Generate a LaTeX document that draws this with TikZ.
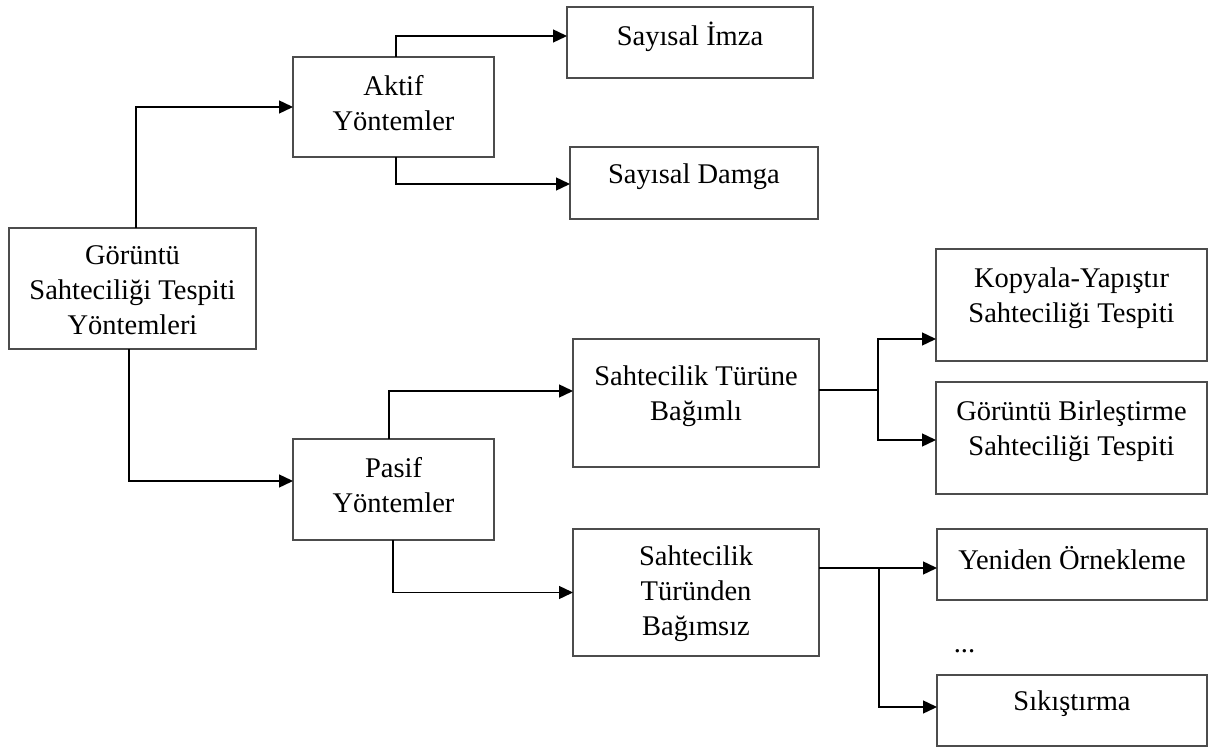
\documentclass[tikz,border=0pt]{standalone}
\usepackage{fontspec}
\setmainfont{Liberation Serif}
\usetikzlibrary{arrows.meta,calc}
\begin{document}
\begin{tikzpicture}[x=0.5pt,y=-0.5pt,
  box/.style={draw=black!70,line width=0.9pt,inner sep=0pt,outer sep=0pt},
  lbl/.style={align=center,inner sep=0pt,font=\fontsize{14.25}{17.5}\selectfont},
  conn/.style={line width=0.7pt,draw=black},
  arr/.style={conn,-{Triangle[length=7pt,width=6.5pt]}}]
\useasboundingbox (0,0) rectangle (1212,749);

% boxes (centre in px, size in pt = px/2)
\node[box,minimum width=123.5pt,minimum height=60.5pt] (root)        at (132.5,288.5) {};
\node[box,minimum width=100.5pt,minimum height=50pt]   (aktif)       at (393.5,107)   {};
\node[box,minimum width=123pt,  minimum height=35.5pt] (imza)        at (690,42.5)    {};
\node[box,minimum width=124pt,  minimum height=36pt]   (damga)       at (694,183)     {};
\node[box,minimum width=100.5pt,minimum height=50.5pt] (pasif)       at (393.5,489.5) {};
\node[box,minimum width=123pt,  minimum height=64pt]   (turune)      at (696,403)     {};
\node[box,minimum width=123pt,  minimum height=63.5pt] (turunden)    at (696,592.5)   {};
\node[box,minimum width=135.5pt,minimum height=56pt]   (kopyala)     at (1071.5,305)  {};
\node[box,minimum width=135.5pt,minimum height=56pt]   (birlestirme) at (1071.5,438)  {};
\node[box,minimum width=135pt,  minimum height=35.5pt] (yeniden)     at (1072,564.5)  {};
\node[box,minimum width=135pt,  minimum height=35.5pt] (sikistirma)  at (1072,710.5)  {};

% labels
\node[lbl] (troot)        at (132.5,290.5) {Görüntü\\Sahteciliği Tespiti\\Yöntemleri};
\node[lbl] (taktif)       at (393.5,103)   {Aktif\\Yöntemler};
\node[lbl] (timza)        at (690,36.5)    {Sayısal İmza};
\node[lbl] (tdamga)       at (694,176.5)   {Sayısal Damga};
\node[lbl] (tpasif)       at (393.5,485.5) {Pasif\\Yöntemler};
\node[lbl] (tturune)      at (696,396)     {Sahtecilik Türüne\\Bağımlı};
\node[lbl] (tturunden)    at (696,594)     {Sahtecilik\\Türünden\\Bağımsız};
\node[lbl] (tkopyala)     at (1071.5,298)  {Kopyala-Yapıştır\\Sahteciliği Tespiti};
\node[lbl] (tbirlestirme) at (1071.5,431)  {Görüntü Birleştirme\\Sahteciliği Tespiti};
\node[lbl] (tyeniden)     at (1072,558.5)  {Yeniden Örnekleme};
\node[lbl] (tsikistirma)  at (1072,703.5)  {Sıkıştırma};
\node[lbl,anchor=base] (dots) at (964.5,652) {...};

% connectors
\draw[arr] ($(root.north)+(3.5,0)$) |- (aktif.west);
\draw[arr] ($(root.south)+(-3.5,0)$) |- ($(pasif.west)+(0,-8.5)$);
\draw[arr] ($(aktif.north)+(2.5,0)$) |- ($(imza.west)+(0,-6.5)$);
\draw[arr] ($(aktif.south)+(2.5,0)$) |- ($(damga.west)+(0,1)$);
\draw[arr] ($(pasif.north)+(-4.5,0)$) |- ($(turune.west)+(0,-12)$);
\draw[arr] ($(pasif.south)+(-0.5,0)$) |- (turunden.west);

\coordinate (jA) at ($(turune.east)+(59,-13)$);
\draw[conn] ($(turune.east)+(0,-13)$) -- (jA);
\draw[arr] (jA) |- ($(kopyala.west)+(0,34)$);
\draw[arr] (jA) |- ($(birlestirme.west)+(0,2)$);

\coordinate (jB) at ($(turunden.east)+(60,-24.5)$);
\draw[arr] ($(turunden.east)+(0,-24.5)$) -- ($(yeniden.west)+(0,3.5)$);
\draw[arr] (jB) |- ($(sikistirma.west)+(0,-3.5)$);
\end{tikzpicture}
\end{document}
